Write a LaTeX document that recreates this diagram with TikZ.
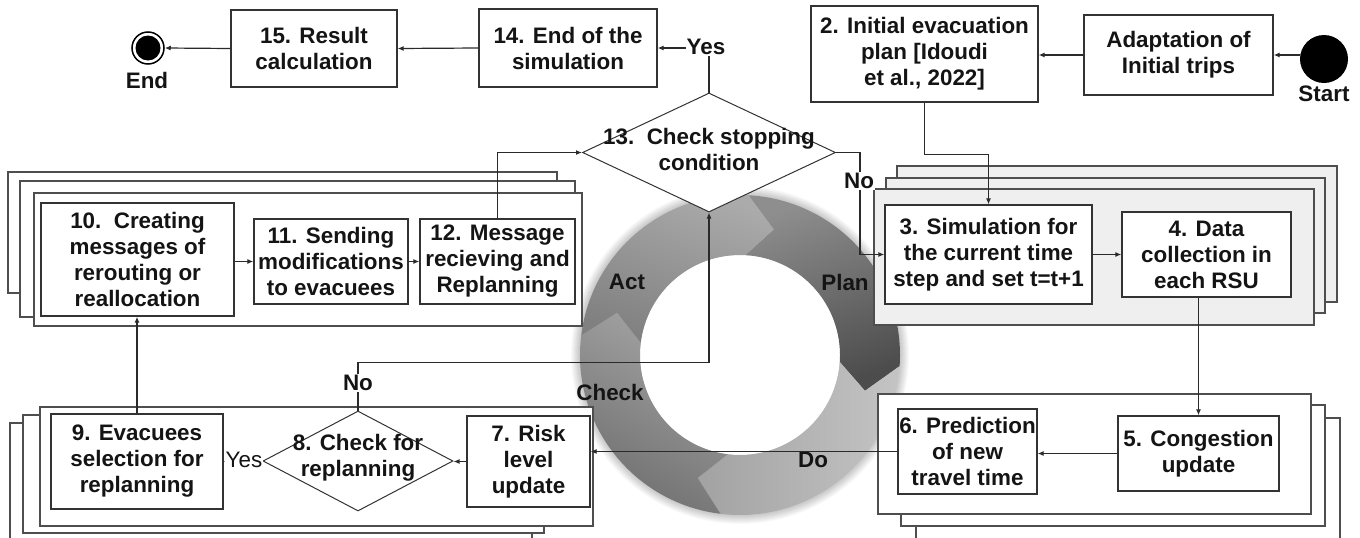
\documentclass[tikz,border=0pt]{standalone}
\usepackage{fontspec}
\setmainfont{Liberation Sans}
\usetikzlibrary{arrows.meta,shapes.geometric}
\definecolor{txt}{HTML}{141414}
\definecolor{boxc}{HTML}{333333}
\definecolor{frmc}{HTML}{4E4E4E}
\definecolor{linec}{HTML}{2A2A2A}
\definecolor{lgray}{HTML}{EFEFEF}
\definecolor{planA}{HTML}{8E8E8E}
\definecolor{planB}{HTML}{4C4C4C}
\definecolor{doA}{HTML}{A2A2A2}
\definecolor{doB}{HTML}{C4C4C4}
\definecolor{chA}{HTML}{A4A4A4}
\definecolor{chB}{HTML}{6E6E6E}
\definecolor{actA}{HTML}{ABABAB}
\definecolor{actB}{HTML}{808080}
\newcommand\pdcaseg[5]{%
  \shade[top color=#3,bottom color=#4,shading angle=#5]
    (#1:160) arc[start angle=#1,end angle=#2,radius=160pt]
    -- ({#2-12}:130) -- (#2:100) arc[start angle=#2,end angle=#1,radius=100pt]
    -- ({#1-12}:130) -- cycle;}
\begin{document}
\begin{tikzpicture}[x=1pt,y=-1pt,
  every node/.style={font=\fontsize{22.4}{26}\selectfont\bfseries, text=txt, align=center},
  box/.style={draw=boxc, line width=1.3pt, fill=white, inner sep=0pt},
  frm/.style={draw=frmc, line width=1.2pt, fill=white},
  gfrm/.style={draw=frmc, line width=1.2pt, fill=lgray},
  dia/.style={diamond, draw=boxc, line width=1pt, fill=white, inner sep=0pt},
  conn/.style={draw=linec, line width=1.2pt},
  arr/.style={conn, -{Latex[length=6pt,width=5pt]}},
  lbl/.style={fill=white, inner sep=1pt},
  thinlbl/.style={fill=white, inner sep=1pt, font=\fontsize{22.4}{26}\selectfont\mdseries},
]
\useasboundingbox (0,0) rectangle (1360,538);
\fill[white] (0,0) rectangle (1360,538);

% ---------- PDCA ring ----------
\begin{scope}[shift={(740,355)}, y=1pt]
  \foreach \k in {1,...,9} \fill[black, opacity=0.025] (0,0) circle[radius={160pt+\k pt}];
  \fill[white] (0,0) circle[radius=100pt];
  \pdcaseg{87}{-4}{planA}{planB}{20}
  \pdcaseg{-4}{-97}{doA}{doB}{90}
  \pdcaseg{-97}{-187}{chA}{chB}{-30}
  \pdcaseg{-187}{-273}{actA}{actB}{-20}
\end{scope}
\node (plan) at (845,282) {Plan};
\node (act) at (627,282) {Act};
\node (check) at (610,392) {Check};
\node (do) at (813,460) {Do};

% ---------- group frames ----------
\draw[frm] (8,172) rectangle (557,293);
\draw[frm] (20,181) rectangle (575,317);
\draw[frm] (34,193) rectangle (582,326);

\draw[gfrm] (897,166) rectangle (1337,302);
\draw[gfrm] (886,178) rectangle (1325,313);
\draw[gfrm] (874,189) rectangle (1314,325);

\draw[frm] (10,423) rectangle (532,560);
\draw[frm] (23,415) rectangle (544,533);
\draw[frm] (40,407) rectangle (593,526);

\draw[frm] (916,418) rectangle (1340,560);
\draw[frm] (901,405) rectangle (1325,526);
\draw[frm] (878,394) rectangle (1311,514);

% ---------- top row ----------
\node[circle, draw=black, line width=1.5pt, fill=white, minimum size=32, inner sep=0pt] (endc) at (148,48) {};
\node[circle, fill=black, minimum size=25, inner sep=0pt] (endin) at (endc) {};
\node (endl) at (147,80) {End};
\node[box, minimum width=166, minimum height=77] (b15) at (314,48.5) {15. Result\\calculation};
\node[box, minimum width=178, minimum height=78] (b14) at (568,48) {14. End of the\\simulation};
\node[box, minimum width=227, minimum height=96] (b2) at (924.5,54) {2. Initial evacuation\\plan [Idoudi\\et al., 2022]};
\node[box, minimum width=189, minimum height=80] (bA) at (1178.5,55) {Adaptation of\\Initial trips};
\node[circle, fill=black, minimum size=48, inner sep=0pt] (start) at (1324,59) {};
\node (startl) at (1324,94) {Start};

% ---------- diamond 13 ----------
\node[dia, minimum width=253, minimum height=119] (d13) at (709,152.5) {};
\node (d13t) at (709,149) {13.\ \ Check stopping\\condition};

% ---------- group 10-12 ----------
\node[box, minimum width=193, minimum height=113] (b10) at (137.5,259.5) {10.\ \ Creating\\messages of\\rerouting or\\reallocation};
\node[box, minimum width=154, minimum height=85] (b11) at (331,261.5) {11. Sending\\modifications\\to evacuees};
\node[box, minimum width=155, minimum height=85] (b12) at (497.5,261.5) {12. Message\\recieving and\\Replanning};

% ---------- group 3-4 ----------
\node[box, minimum width=207, minimum height=99] (b3) at (988.5,254.5) {3. Simulation for\\the current time\\step and set t=t+1};
\node[box, minimum width=169, minimum height=85] (b4) at (1206.5,254.5) {4. Data\\collection in\\each RSU};

% ---------- group 7-9 ----------
\node[box, minimum width=172, minimum height=95] (b9) at (137,461.5) {9. Evacuees\\selection for\\replanning};
\node[dia, minimum width=190, minimum height=100] (d8) at (358,461) {};
\node (d8t) at (358,458) {8. Check for\\replanning};
\node[box, minimum width=123, minimum height=91] (b7) at (528.5,461.5) {7. Risk\\level\\update};

% ---------- group 5-6 ----------
\node[box, minimum width=139, minimum height=85] (b6) at (967.5,451.5) {6. Prediction\\of new\\travel time};
\node[box, minimum width=161, minimum height=75] (b5) at (1198.5,453.5) {5. Congestion\\update};

% ---------- connectors ----------
\draw[arr] (start.west |- bA.east) -- (bA.east);
\draw[arr] (bA.west) -- (bA.west -| b2.east);
\draw[arr] (b2.south) -- ++(0,52) -| (b3.north);
\draw[arr] (d13.east) -- ++(24,0) |- (b3.west);
\node[lbl] (no13) at (859,181) {No};
\draw[arr] (b3.east) -- (b3.east -| b4.west);
\draw[arr] (b5.north |- b4.south) -- (b5.north);
\draw[arr] (b5.west) -- (b5.west -| b6.east);
\draw[arr] (b6.west) -- (b6.west -| b7.east);
\draw[arr] (b7.west) -- (b7.west -| d8.east);
\draw[arr] (d8.west) -- (b9.east);
\node[thinlbl] (yes8) at (244,460) {Yes};
\draw[arr] (b9.north) -- (b9.north |- b10.south);
\draw[arr] (b10.east |- b11.west) -- (b11.west);
\draw[arr] (b11.east) -- (b12.west);
\draw[arr] (b12.north) |- (d13.west);
\draw[arr] (d8.north) -- ++(0,-48) -| (d13.south);
\node[lbl] (no8) at (358,383) {No};
\draw[arr] (d13.north) |- (b14.east);
\node[lbl] (yes13) at (706,47) {Yes};
\draw[arr] (b14.west) -- (b15.east);
\draw[arr] (b15.west) -- (endc.east);
\end{tikzpicture}
\end{document}
